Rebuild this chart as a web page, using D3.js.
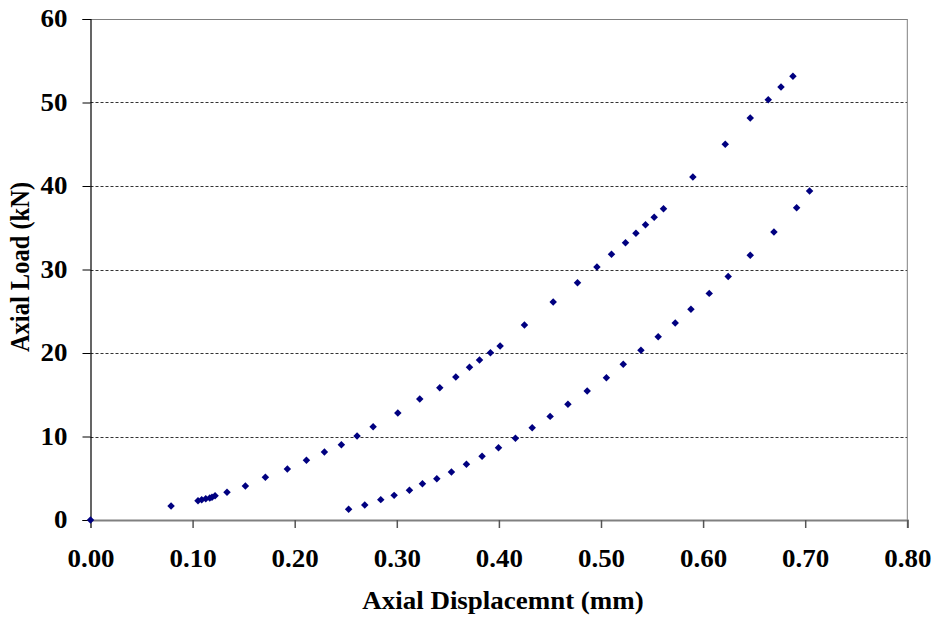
<!DOCTYPE html>
<html><head><meta charset="utf-8">
<script src="https://cdn.jsdelivr.net/npm/d3@7"></script>
<style>body{margin:0;background:#fff}svg{display:block}</style>
</head><body>
<svg id="c" width="939" height="625"></svg>
<script>
const loadX = [0, 0.0789, 0.1053, 0.1089, 0.1129, 0.1168, 0.1190, 0.1220, 0.1337, 0.1517, 0.1713, 0.1928, 0.2115, 0.2291, 0.2457, 0.2611, 0.2768, 0.3010, 0.3225, 0.3421, 0.3578, 0.3712, 0.3810, 0.3917, 0.4012, 0.4250, 0.4532, 0.4770, 0.4960, 0.5103, 0.5240, 0.5342, 0.5436, 0.5521, 0.5612, 0.5900, 0.6217, 0.6462, 0.6638, 0.6763, 0.6880];
const loadY = [0, 1.68, 2.31, 2.43, 2.55, 2.63, 2.72, 2.91, 3.31, 4.07, 5.11, 6.11, 7.15, 8.14, 9.02, 10.06, 11.18, 12.81, 14.49, 15.85, 17.13, 18.28, 19.16, 20.04, 20.84, 23.35, 26.11, 28.42, 30.30, 31.82, 33.21, 34.33, 35.37, 36.25, 37.28, 41.08, 44.99, 48.14, 50.34, 51.86, 53.14];
const unloadX = [0.2528, 0.2686, 0.2843, 0.2974, 0.3124, 0.3251, 0.3392, 0.3535, 0.3682, 0.3835, 0.3996, 0.4162, 0.4326, 0.4502, 0.4676, 0.4865, 0.5053, 0.5218, 0.5391, 0.5560, 0.5727, 0.5881, 0.6060, 0.6246, 0.6462, 0.6694, 0.6916, 0.7043];
const unloadY = [1.30, 1.80, 2.44, 2.95, 3.55, 4.35, 4.95, 5.75, 6.67, 7.64, 8.66, 9.78, 11.06, 12.41, 13.85, 15.45, 17.03, 18.64, 20.32, 21.95, 23.59, 25.23, 27.14, 29.16, 31.70, 34.49, 37.40, 39.40];
const xTicks = [0, 0.1, 0.2, 0.3, 0.4, 0.5, 0.6, 0.7, 0.8];
const yTicks = [0, 10, 20, 30, 40, 50, 60];
const xTitle = "Axial Displacemnt (mm)";
const yTitle = "Axial Load (kN)";

const svg = d3.select("#c");
const L = 90.5, R = 907.3, T = 19, B = 520;
const x = d3.scaleLinear().domain([0, 0.8]).range([L, R]);
const y = d3.scaleLinear().domain([0, 60]).range([B, T]);
const font = "'Liberation Serif','Times New Roman',serif";
const FS = 24.5, SX = 1.1;

// gridlines
svg.append("g").selectAll("line").data(yTicks.filter(d => d > 0 && d < 60)).join("line")
  .attr("x1", L).attr("x2", R).attr("y1", d => Math.round(y(d)) + 0.5).attr("y2", d => Math.round(y(d)) + 0.5)
  .attr("stroke", "#333").attr("stroke-width", 1).attr("stroke-dasharray", "3,2");
// top and right border
svg.append("line").attr("x1", L).attr("x2", R).attr("y1", T + 0.5).attr("y2", T + 0.5).attr("stroke", "#808080");
svg.append("line").attr("x1", R).attr("x2", R).attr("y1", T).attr("y2", B).attr("stroke", "#808080");

// x axis
const xAxis = svg.append("g").attr("transform", `translate(0,${B})`)
  .call(d3.axisBottom(x).tickValues(xTicks).tickFormat(d3.format(".2f")).tickSize(8).tickPadding(22));
xAxis.select(".domain").attr("stroke", "#808080").attr("stroke-width", 2);
xAxis.selectAll(".tick line").attr("stroke", "#555").attr("stroke-width", 1.5);
xAxis.selectAll("text").attr("font-family", font).attr("font-weight", "bold").attr("font-size", FS)
  .attr("fill", "#000").attr("transform", `scale(${SX},1)`);

// y axis
const yAxis = svg.append("g").attr("transform", `translate(${L},0)`)
  .call(d3.axisLeft(y).tickValues(yTicks).tickSize(8).tickPadding(13));
yAxis.select(".domain").attr("stroke", "#000").attr("stroke-width", 1.2);
yAxis.selectAll(".tick line").attr("stroke", "#000");
yAxis.selectAll("text").attr("font-family", font).attr("font-weight", "bold").attr("font-size", FS)
  .attr("fill", "#000").attr("transform", `scale(${SX},1)`);

// titles
svg.append("g").attr("transform", `translate(503,609)`).append("text")
  .attr("transform", `scale(${SX},1)`).attr("text-anchor", "middle")
  .attr("font-family", font).attr("font-weight", "bold").attr("font-size", FS).text(xTitle);
svg.append("g").attr("transform", `translate(29,267) rotate(-90)`).append("text")
  .attr("transform", `scale(1,${SX})`).attr("text-anchor", "middle")
  .attr("font-family", font).attr("font-weight", "bold").attr("font-size", FS).text(yTitle);

// markers
const diamond = d3.symbol().type(d3.symbolSquare).size(28);
const pts = loadX.map((v, i) => [v, loadY[i]]).concat(unloadX.map((v, i) => [v, unloadY[i]]));
svg.append("g").selectAll("path").data(pts).join("path")
  .attr("d", diamond)
  .attr("transform", d => `translate(${x(d[0])},${y(d[1])}) rotate(45)`)
  .attr("fill", "#000080");
</script>
</body></html>
